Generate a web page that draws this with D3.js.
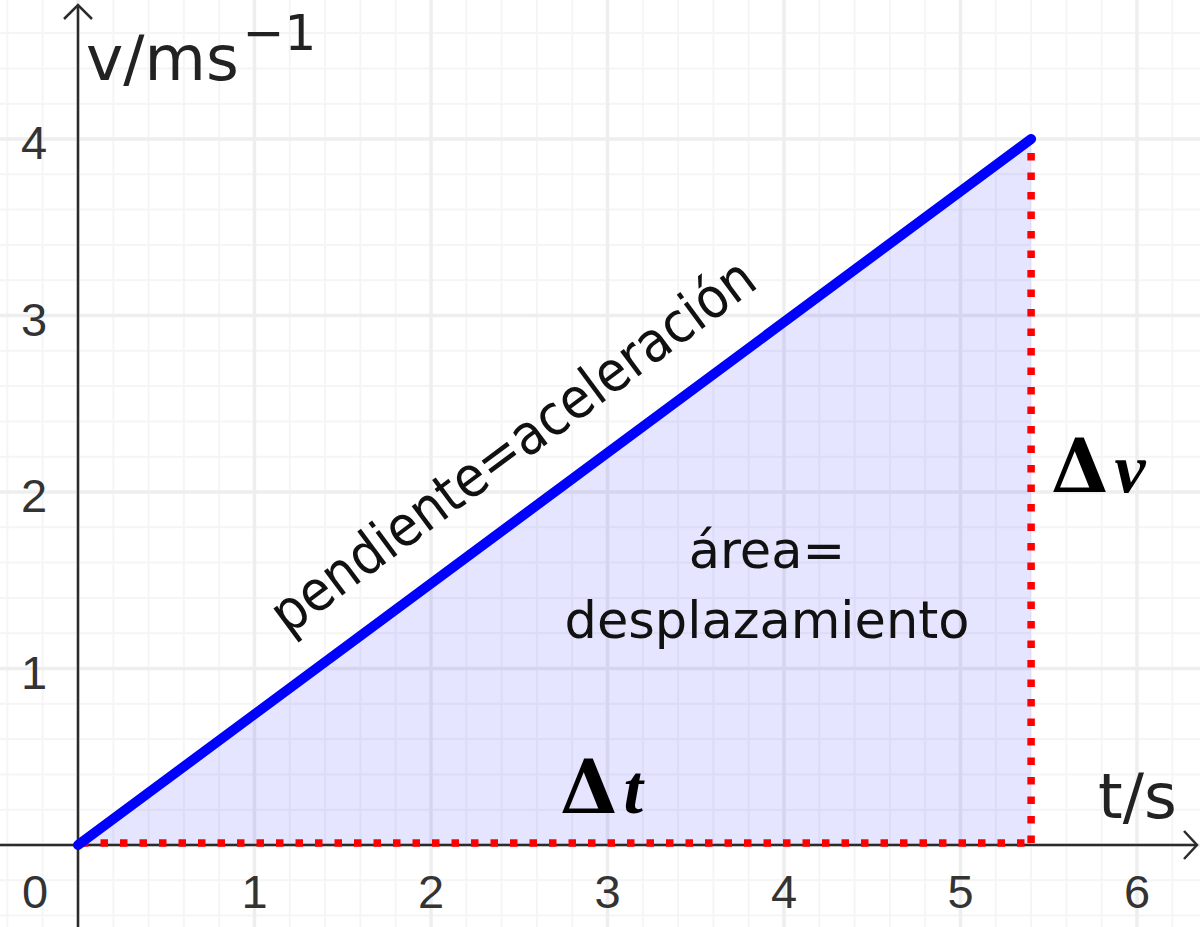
<!DOCTYPE html>
<html>
<head>
<meta charset="utf-8">
<script src="https://cdn.jsdelivr.net/npm/d3@7"></script>
<style>
  body { margin: 0; background: #fff; }
  svg { display: block; }
</style>
</head>
<body>
<div id="chart"></div>
<script>
// Chart size
var svgWidth = 1200;
var svgHeight = 927;

// Data: velocity line from origin to end point
var lineT = [0, 5.4];
var lineV = [0, 4];
var xTicks = [0, 1, 2, 3, 4, 5, 6];
var yTicks = [1, 2, 3, 4];
var xLabel = "t/s";
var yLabel = "v/ms";
var slopeText = "pendiente=aceleración";
var areaText = ["área=", "desplazamiento"];

// scales (origin at 78, 845)
var x = d3.scaleLinear().domain([0, 6]).range([78, 1137]);
var y = d3.scaleLinear().domain([0, 4]).range([845, 139]);

var svg = d3.select("#chart")
    .append("svg")
    .attr("width", svgWidth)
    .attr("height", svgHeight);

// grid lines: minor every 0.2, major every 1
var minorX = d3.range(-2, 33).map(d => d / 5);
var minorY = d3.range(-2, 27).map(d => d / 5);

var grid = svg.append("g");
grid.selectAll(".minx").data(minorX.filter(d => Math.abs(d - Math.round(d)) > 0.01))
    .enter().append("line")
    .attr("x1", d => x(d)).attr("x2", d => x(d))
    .attr("y1", 0).attr("y2", svgHeight)
    .attr("stroke", "#f5f5f5").attr("stroke-width", 2);
grid.selectAll(".miny").data(minorY.filter(d => Math.abs(d - Math.round(d)) > 0.01))
    .enter().append("line")
    .attr("y1", d => y(d)).attr("y2", d => y(d))
    .attr("x1", 0).attr("x2", svgWidth)
    .attr("stroke", "#f5f5f5").attr("stroke-width", 2);
grid.selectAll(".majx").data(d3.range(0, 7))
    .enter().append("line")
    .attr("x1", d => x(d)).attr("x2", d => x(d))
    .attr("y1", 0).attr("y2", svgHeight)
    .attr("stroke", "#eeeeee").attr("stroke-width", 3.5);
grid.selectAll(".majy").data(d3.range(0, 6))
    .enter().append("line")
    .attr("y1", d => y(d)).attr("y2", d => y(d))
    .attr("x1", 0).attr("x2", svgWidth)
    .attr("stroke", "#eeeeee").attr("stroke-width", 3.5);

// shaded area under line
var tri = [[lineT[0], lineV[0]], [lineT[1], lineV[1]], [lineT[1], 0]];
svg.append("path")
    .attr("d", d3.line().x(d => x(d[0])).y(d => y(d[1]))(tri) + "Z")
    .attr("fill", "rgba(0,0,255,0.1)");

// axes with open arrowheads
var axisColor = "#2b2b2b";
svg.append("line")
    .attr("x1", 0).attr("x2", 1197)
    .attr("y1", y(0)).attr("y2", y(0))
    .attr("stroke", axisColor).attr("stroke-width", 2.5);
svg.append("line")
    .attr("x1", x(0)).attr("x2", x(0))
    .attr("y1", svgHeight).attr("y2", 6)
    .attr("stroke", axisColor).attr("stroke-width", 2.5);
svg.append("path")
    .attr("d", `M1184,${y(0) - 14} L1197,${y(0)} L1184,${y(0) + 14}`)
    .attr("fill", "none").attr("stroke", axisColor).attr("stroke-width", 2.5);
svg.append("path")
    .attr("d", `M${x(0) - 14},19 L${x(0)},5 L${x(0) + 14},19`)
    .attr("fill", "none").attr("stroke", axisColor).attr("stroke-width", 2.5);

// red dotted lines (delta t and delta v)
var dotted = svg.append("g")
    .attr("fill", "none")
    .attr("stroke", "#ff0000")
    .attr("stroke-width", 7.5)
    .attr("stroke-dasharray", "7.5,12");
dotted.append("line")
    .attr("x1", x(0) + 3).attr("x2", x(lineT[1]))
    .attr("y1", y(0) - 2).attr("y2", y(0) - 2);
dotted.append("line")
    .attr("x1", x(lineT[1])).attr("x2", x(lineT[1]))
    .attr("y1", y(0) - 2).attr("y2", y(lineV[1]) + 4);

// the blue line
svg.append("line")
    .attr("x1", x(lineT[0])).attr("y1", y(lineV[0]))
    .attr("x2", x(lineT[1])).attr("y2", y(lineV[1]))
    .attr("stroke", "#0000ff").attr("stroke-width", 10)
    .attr("stroke-linecap", "round");

// tick labels
var tickFont = "Liberation Sans, Arial, sans-serif";
svg.selectAll(".xt").data(xTicks)
    .enter().append("text")
    .attr("x", d => d === 0 ? 35 : x(d))
    .attr("y", 908)
    .attr("text-anchor", "middle")
    .attr("font-family", tickFont).attr("font-size", 47)
    .attr("fill", "#333")
    .text(d => d);
svg.selectAll(".yt").data(yTicks)
    .enter().append("text")
    .attr("x", 34)
    .attr("y", d => y(d) + 20)
    .attr("text-anchor", "middle")
    .attr("font-family", tickFont).attr("font-size", 47)
    .attr("fill", "#333")
    .text(d => d);

// axis labels
var labelFont = "DejaVu Sans, Verdana, sans-serif";
var yl = svg.append("text")
    .attr("x", 86).attr("y", 80)
    .attr("font-family", labelFont).attr("font-size", 63)
    .attr("fill", "#222");
yl.append("tspan").text(yLabel);
yl.append("tspan").attr("font-size", 50).attr("dx", 4).attr("dy", -30).text("\u22121");

svg.append("text")
    .attr("x", 1098).attr("y", 818)
    .attr("font-family", labelFont).attr("font-size", 63)
    .attr("fill", "#222")
    .text(xLabel);

// annotation along the line
var ang = Math.atan2(y(lineV[1]) - y(0), x(lineT[1]) - x(0)) * 180 / Math.PI;
svg.append("text")
    .attr("transform", `translate(524,461) rotate(${ang})`)
    .attr("text-anchor", "middle")
    .attr("font-family", "DejaVu Sans Condensed, DejaVu Sans, sans-serif")
    .attr("font-size", 56)
    .attr("fill", "#111")
    .text(slopeText);

svg.selectAll(".area").data(areaText)
    .enter().append("text")
    .attr("x", 767)
    .attr("y", (d, i) => 568 + i * 70)
    .attr("text-anchor", "middle")
    .attr("font-family", labelFont).attr("font-size", 51)
    .attr("fill", "#111")
    .text(d => d);

// delta labels
function deltaLabel(px, py, letter) {
    var t = svg.append("text")
        .attr("x", px).attr("y", py)
        .attr("font-weight", "bold")
        .attr("fill", "#000");
    t.append("tspan")
        .attr("font-family", "DejaVu Serif, serif")
        .attr("font-size", 74)
        .text("\u0394");
    t.append("tspan")
        .attr("font-family", "Liberation Serif, serif")
        .attr("font-style", "italic")
        .attr("font-size", 70)
        .attr("dx", 6)
        .text(letter);
}
deltaLabel(560, 813, "t");
deltaLabel(1051, 492, "v");
</script>
</body>
</html>
